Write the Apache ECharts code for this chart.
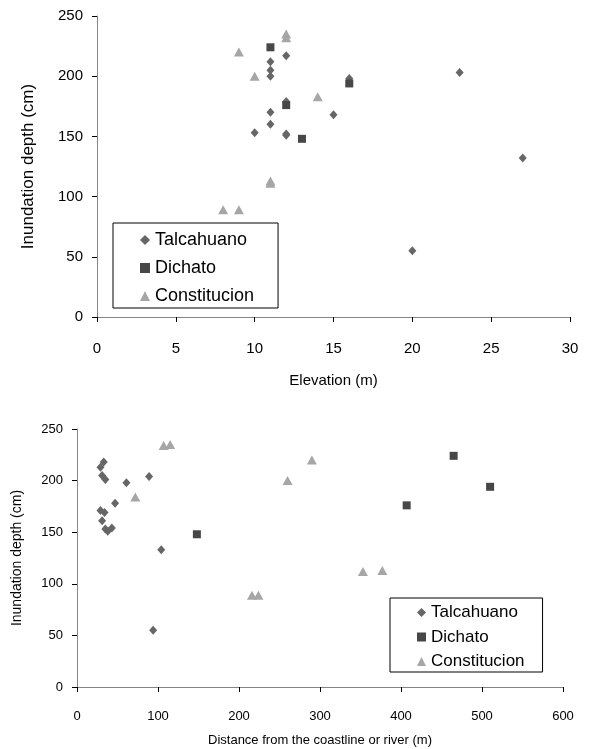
<!DOCTYPE html>
<html>
<head>
<meta charset="utf-8">
<script src="https://cdn.jsdelivr.net/npm/echarts@6/dist/echarts.min.js"></script>
<style>
  html, body { margin: 0; padding: 0; background: #fff; }
  #chart { width: 591px; height: 749px; }
</style>
</head>
<body>
<div id="chart"></div>
<script>
// series names
const seriesNames = ['Talcahuano', 'Dichato', 'Constitucion']

// top chart: elevation (m) vs inundation depth (cm)
const elevTalcX = [12, 11, 11, 11, 12, 11, 15, 11, 10, 12, 12, 16, 23, 27, 20]
const elevTalcY = [217, 212, 205, 200, 179, 170, 168, 160, 153, 152, 151, 198, 203, 132, 55]
const elevDichX = [11, 12, 13, 16]
const elevDichY = [224, 176, 148, 194]
const elevConsX = [12, 12, 9, 10, 14, 11, 11, 8, 9]
const elevConsY = [235, 232, 220, 200, 183, 113, 111, 89, 89]

// bottom chart: distance from coastline or river (m) vs inundation depth (cm)
const distTalcX = [33, 29, 31, 35, 61, 89, 47, 29, 34, 31, 35, 38, 43, 104, 94]
const distTalcY = [218, 213, 205, 201, 198, 204, 178, 171, 169, 161, 153, 151, 154, 133, 55]
const distDichX = [148, 407, 465, 510]
const distDichY = [148, 176, 224, 194]
const distConsX = [107, 115, 290, 260, 72, 353, 377, 216, 224]
const distConsY = [234, 235, 220, 200, 184, 112, 113, 89, 89]

const FONT = 'Liberation Sans'
const colors = { Talcahuano: '#666666', Dichato: '#474747', Constitucion: '#a6a6a6' }
const symbols = { Talcahuano: 'diamond', Dichato: 'rect', Constitucion: 'triangle' }
const sizes = { Talcahuano: [8, 9], Dichato: [8, 8], Constitucion: [10, 9] }

function zip(xs, ys) {
  return xs.map((x, i) => [x, ys[i]])
}

function axisBase(min, max, interval, fontSize, margin, nameSize) {
  return {
    min: min,
    max: max,
    interval: interval,
    splitLine: { show: false },
    axisLine: { show: true, onZero: false, lineStyle: { color: '#858585', width: 1 } },
    axisTick: { show: true, length: 5, lineStyle: { color: '#000' } },
    axisLabel: { color: '#000', fontFamily: FONT, fontSize: fontSize, margin: margin },
    nameTextStyle: { color: '#000', fontFamily: FONT, fontSize: nameSize }
  }
}

function makeSeries(name, data, idx) {
  return {
    name: name,
    type: 'scatter',
    xAxisIndex: idx,
    yAxisIndex: idx,
    symbol: symbols[name],
    symbolSize: sizes[name],
    itemStyle: { color: colors[name], opacity: 1 },
    data: data,
    animation: false
  }
}

function legendData() {
  return seriesNames.map(n => ({ name: n, icon: symbols[n], itemStyle: { color: colors[n] } }))
}

const chart = echarts.init(document.getElementById('chart'), null, { renderer: 'canvas' })

const option = {
  animation: false,
  backgroundColor: '#fff',
  grid: [
    { left: 97, top: 16, right: 21, bottom: 432 },
    { left: 77, top: 429, right: 28, bottom: 62 }
  ],
  xAxis: [
    Object.assign(axisBase(0, 30, 5, 15, 24, 15), {
      type: 'value', gridIndex: 0,
      name: 'Elevation (m)', nameLocation: 'middle', nameGap: 56
    }),
    Object.assign(axisBase(0, 600, 100, 13, 23, 13), {
      type: 'value', gridIndex: 1,
      name: 'Distance from the coastline or river (m)', nameLocation: 'middle', nameGap: 47
    })
  ],
  yAxis: [
    Object.assign(axisBase(0, 250, 50, 15, 14, 17), {
      type: 'value', gridIndex: 0,
      name: 'Inundation depth (cm)', nameLocation: 'middle', nameGap: 60
    }),
    Object.assign(axisBase(0, 250, 50, 13, 14, 14), {
      type: 'value', gridIndex: 1,
      name: 'Inundation depth (cm)', nameLocation: 'middle', nameGap: 53
    })
  ],
  legend: [
    {
      orient: 'vertical', left: 113, top: 223,
      padding: [8, 24, 3, 27], itemGap: 10,
      itemWidth: 10, itemHeight: 10,
      borderColor: '#000', borderWidth: 1,
      selectedMode: false,
      textStyle: { color: '#000', fontFamily: FONT, fontSize: 18, lineHeight: 18 },
      data: legendData()
    },
    {
      orient: 'vertical', left: 390, top: 598,
      padding: [6, 18, 2, 27], itemGap: 7.5,
      itemWidth: 9, itemHeight: 9,
      borderColor: '#000', borderWidth: 1,
      selectedMode: false,
      textStyle: { color: '#000', fontFamily: FONT, fontSize: 17, lineHeight: 17 },
      data: legendData()
    }
  ],
  series: [
    makeSeries('Talcahuano', zip(elevTalcX, elevTalcY), 0),
    makeSeries('Dichato', zip(elevDichX, elevDichY), 0),
    makeSeries('Constitucion', zip(elevConsX, elevConsY), 0),
    makeSeries('Talcahuano', zip(distTalcX, distTalcY), 1),
    makeSeries('Dichato', zip(distDichX, distDichY), 1),
    makeSeries('Constitucion', zip(distConsX, distConsY), 1)
  ]
}

chart.setOption(option)
</script>
</body>
</html>
